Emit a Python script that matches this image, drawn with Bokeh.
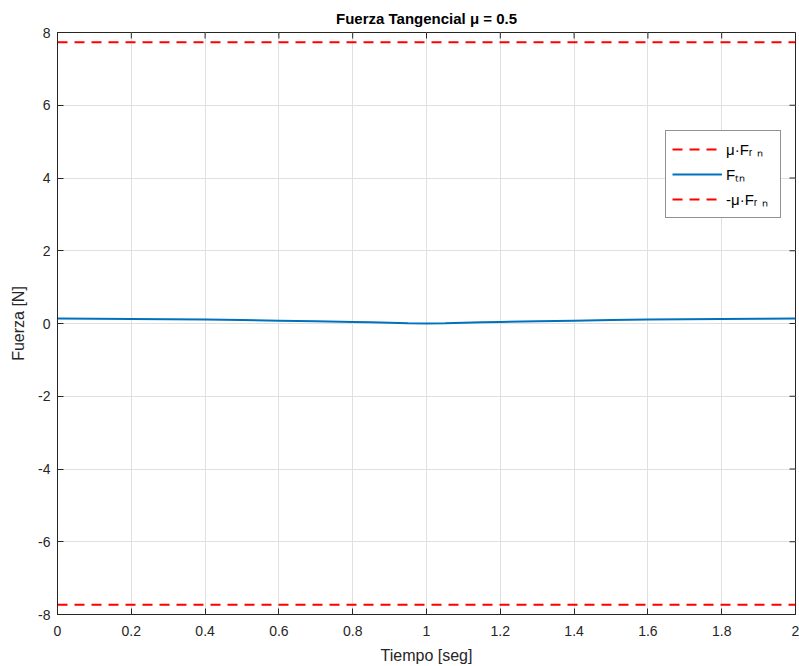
import math
from bokeh.plotting import figure
from bokeh.models import (Legend, LegendItem, FixedTicker, Range1d, Title)
from bokeh.embed import file_html
from bokeh.resources import INLINE

# Data
t = [0.0, 0.1, 0.2, 0.3, 0.4, 0.5, 0.6, 0.7, 0.8, 0.85, 0.9, 0.95, 1.0,
     1.05, 1.1, 1.15, 1.2, 1.3, 1.4, 1.5, 1.6, 1.7, 1.8, 1.9, 2.0]
f_tn = [0.135, 0.132, 0.125, 0.117, 0.107, 0.094, 0.079, 0.062, 0.044, 0.033,
        0.021, 0.008, 0.0, 0.008, 0.021, 0.033, 0.044, 0.062, 0.079, 0.094,
        0.107, 0.117, 0.125, 0.132, 0.135]
mu_frn = 7.73
x_lim = [0.0, 2.0]
y_lim = [-8.0, 8.0]
x_ticks = [0, 0.2, 0.4, 0.6, 0.8, 1.0, 1.2, 1.4, 1.6, 1.8, 2.0]
x_tick_labels = ["0", "0.2", "0.4", "0.6", "0.8", "1", "1.2", "1.4", "1.6", "1.8", "2"]
y_ticks = [-8, -6, -4, -2, 0, 2, 4, 6, 8]
y_tick_labels = ["-8", "-6", "-4", "-2", "0", "2", "4", "6", "8"]
title_text = "Fuerza Tangencial \u03bc = 0.5"
x_label = "Tiempo [seg]"
y_label = "Fuerza [N]"
legend_labels = ["\u03bc\u00b7F\u1d63 \u2099", "F\u209c\u2099", "-\u03bc\u00b7F\u1d63 \u2099"]

FONT = "Liberation Sans"
TICKC = "#262626"

p = figure(width=799, height=666, output_backend="svg", toolbar_location=None,
           x_range=Range1d(*x_lim), y_range=Range1d(*y_lim),
           min_border_left=57, min_border_right=4, min_border_top=32, min_border_bottom=52)
p.title = Title(text=title_text, align="center", text_font=FONT, text_font_size="15px",
                text_font_style="bold", text_color="black")
p.title.offset = 0
p.title.standoff = 12
p.outline_line_color = TICKC
p.outline_line_width = 1
p.background_fill_color = "white"
p.border_fill_color = "white"

for ax in (p.xaxis[0], p.yaxis[0]):
    ax.major_tick_in = 6
    ax.major_tick_out = 0
    ax.minor_tick_in = 0
    ax.minor_tick_out = 0
    ax.axis_line_color = TICKC
    ax.major_tick_line_color = TICKC
    ax.major_label_text_font = FONT
    ax.major_label_text_font_size = "14px"
    ax.major_label_text_color = TICKC
    ax.axis_label_text_font = FONT
    ax.axis_label_text_font_size = "16px"
    ax.axis_label_text_font_style = "normal"
    ax.axis_label_text_color = TICKC

p.xaxis[0].ticker = FixedTicker(ticks=x_ticks)
p.xaxis[0].major_label_overrides = {v: s for v, s in zip(x_ticks, x_tick_labels)}
p.yaxis[0].ticker = FixedTicker(ticks=y_ticks)
p.yaxis[0].major_label_overrides = {v: s for v, s in zip(y_ticks, y_tick_labels)}
p.xaxis[0].axis_label = x_label
p.yaxis[0].axis_label = y_label
p.xaxis[0].major_label_standoff = 11
p.yaxis[0].major_label_standoff = 7
p.xaxis[0].axis_label_standoff = 8
p.yaxis[0].axis_label_standoff = 8

p.xgrid.ticker = FixedTicker(ticks=x_ticks)
p.ygrid.ticker = FixedTicker(ticks=y_ticks)
p.grid.grid_line_color = "#e0e0e0"
p.grid.grid_line_width = 1

# box ticks on top and right edges (drawn from the tick arrays)
p.ray(x=x_ticks, y=[y_lim[1]] * len(x_ticks), length=6, length_units="screen",
      angle=-math.pi / 2, line_color=TICKC, line_width=1)
p.ray(x=[x_lim[1]] * len(y_ticks), y=y_ticks, length=6, length_units="screen",
      angle=math.pi, line_color=TICKC, line_width=1)

r1 = p.line(x=x_lim, y=[mu_frn, mu_frn], line_color="#FF0000", line_width=2, line_dash="10 7")
r2 = p.line(x=t, y=f_tn, line_color="#0072BD", line_width=2)
r3 = p.line(x=x_lim, y=[-mu_frn, -mu_frn], line_color="#FF0000", line_width=2, line_dash="10 7")

legend = Legend(items=[LegendItem(label=legend_labels[0], renderers=[r1]),
                       LegendItem(label=legend_labels[1], renderers=[r2]),
                       LegendItem(label=legend_labels[2], renderers=[r3])],
                location=(608, 396))
legend.label_text_font = FONT
legend.label_text_font_size = "15px"
legend.label_text_color = "black"
legend.border_line_color = TICKC
legend.border_line_width = 1
legend.background_fill_alpha = 1
legend.glyph_width = 50
legend.glyph_height = 24
legend.label_height = 24
legend.spacing = 1
legend.padding = 6
legend.margin = 0
legend.label_standoff = 4
legend.label_width = 48
p.add_layout(legend, "center")

open("out.html", "w").write(file_html(p, INLINE))
